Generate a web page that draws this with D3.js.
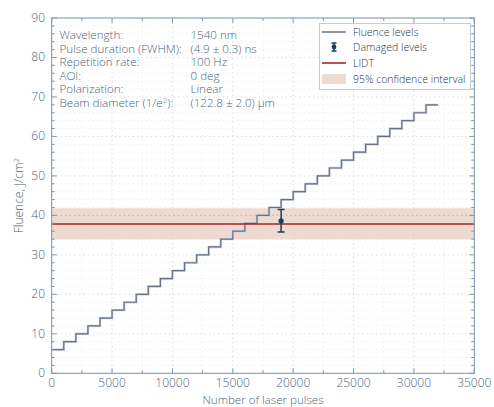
<!DOCTYPE html>
<html><head><meta charset="utf-8">
<script src="https://cdn.jsdelivr.net/npm/d3@7"></script>
<style>
body{margin:0;background:#fff;}
text{font-family:"Open Sans",sans-serif;font-weight:300;}
</style></head><body>
<svg id="c" width="494" height="407"></svg>
<script>
// Data
const stepStarts = [0,1000,2000,3000,4000,5000,6000,7000,8000,9000,10000,11000,12000,13000,14000,15000,16000,17000,18000,19000,20000,21000,22000,23000,24000,25000,26000,27000,28000,29000,30000,31000];
const fluenceLevels = [6,8,10,12,14,16,18,20,22,24,26,28,30,32,34,36,38,40,42,44,46,48,50,52,54,56,58,60,62,64,66,68];
const stepLength = 1000;
const damagedPulses = [19000];
const damagedFluence = [38.6];
const damagedErrLow = [35.8];
const damagedErrHigh = [41.5];
const lidt = [37.8];
const ciLow = [33.9];
const ciHigh = [41.8];
const xTicks = [0,5000,10000,15000,20000,25000,30000,35000];
const yTicks = [0,10,20,30,40,50,60,70,80,90];
const infoLabels = ["Wavelength:","Pulse duration (FWHM):","Repetition rate:","AOI:","Polarization:","Beam diameter (1/e²):"];
const infoValues = ["1540 nm","(4.9 ± 0.3) ns","100 Hz","0 deg","Linear","(122.8 ± 2.0) µm"];
const legendLabels = ["Fluence levels","Damaged levels","LIDT","95% confidence interval"];

const svg = d3.select("#c");
const L=51.7,R=474.3,T=18,B=373.3;
const x = d3.scaleLinear().domain([0,35000]).range([L,R]);
const y = d3.scaleLinear().domain([0,90]).range([B,T]);
const axisCol="#7f97aa", textCol="#4d6579";

// grid (dotted)
const g = svg.append("g");
const xMinor = d3.range(0,35001,2500), yMinor = d3.range(0,91,2);
g.selectAll("line.vx").data(xMinor).enter().append("line")
 .attr("x1",d=>x(d)).attr("x2",d=>x(d)).attr("y1",T).attr("y2",B)
 .attr("stroke",d=>d%5000===0?"#d8dde2":"#eceff2").attr("stroke-width",1).attr("stroke-dasharray","1.5,3");
g.selectAll("line.hy").data(yMinor).enter().append("line")
 .attr("y1",d=>y(d)).attr("y2",d=>y(d)).attr("x1",L).attr("x2",R)
 .attr("stroke",d=>d%10===0?"#d8dde2":"#eceff2").attr("stroke-width",1).attr("stroke-dasharray","1.5,3");

// CI band
svg.append("rect").attr("x",L).attr("width",R-L).attr("y",y(ciHigh[0])).attr("height",y(ciLow[0])-y(ciHigh[0]))
 .attr("fill","#e9cdc2").attr("opacity",0.75);
svg.append("line").attr("x1",L).attr("x2",R).attr("y1",y(40)).attr("y2",y(40)).attr("stroke","#c9b3ab").attr("stroke-dasharray","1.5,3");

// step line
const pts=[];
stepStarts.forEach((s,i)=>{pts.push([s,fluenceLevels[i]]);pts.push([s+stepLength,fluenceLevels[i]]);});
const line=d3.line().x(d=>x(d[0])).y(d=>y(d[1]));
svg.append("path").datum(pts).attr("d",line).attr("fill","none").attr("stroke","#c8ced7").attr("stroke-width",2.4);
svg.append("path").datum(pts).attr("d",line).attr("fill","none").attr("stroke","#66718a").attr("stroke-width",1.2);

// LIDT
svg.append("line").attr("x1",L).attr("x2",R).attr("y1",y(lidt[0])).attr("y2",y(lidt[0])).attr("stroke","#a8242c").attr("stroke-width",1.6);

// damaged
damagedPulses.forEach((p,i)=>{
  const cx=x(p);
  svg.append("line").attr("x1",cx).attr("x2",cx).attr("y1",y(damagedErrLow[i])).attr("y2",y(damagedErrHigh[i])).attr("stroke","#1d3c55").attr("stroke-width",1.5);
  [damagedErrLow[i],damagedErrHigh[i]].forEach(v=>svg.append("line").attr("x1",cx-3.5).attr("x2",cx+3.5).attr("y1",y(v)).attr("y2",y(v)).attr("stroke","#1d3c55").attr("stroke-width",1.5));
  svg.append("circle").attr("cx",cx).attr("cy",y(damagedFluence[i])).attr("r",2.6).attr("fill","#1d3c55");
});

// axes frame
svg.append("rect").attr("x",L).attr("y",T).attr("width",R-L).attr("height",B-T).attr("fill","none").attr("stroke",axisCol).attr("stroke-width",1);
const tk=svg.append("g").attr("stroke",axisCol).attr("stroke-width",1);
xMinor.forEach(d=>{const len=d%5000===0?5:3;
  tk.append("line").attr("x1",x(d)).attr("x2",x(d)).attr("y1",B).attr("y2",B-len);
  tk.append("line").attr("x1",x(d)).attr("x2",x(d)).attr("y1",T).attr("y2",T+len);});
yMinor.forEach(d=>{const len=d%10===0?5:3;
  tk.append("line").attr("y1",y(d)).attr("y2",y(d)).attr("x1",L).attr("x2",L+len);
  tk.append("line").attr("y1",y(d)).attr("y2",y(d)).attr("x1",R).attr("x2",R-len);});

// tick labels
svg.append("g").selectAll("text").data(xTicks).enter().append("text")
 .attr("x",d=>x(d)).attr("y",387).attr("text-anchor","middle").attr("font-size",12).attr("fill",textCol).text(d=>d);
svg.append("g").selectAll("text").data(yTicks).enter().append("text")
 .attr("x",45).attr("y",d=>y(d)+4).attr("text-anchor","end").attr("font-size",12).attr("fill",textCol).text(d=>d);

// axis titles
svg.append("text").attr("x",(L+R)/2).attr("y",404).attr("text-anchor","middle").attr("font-size",11.6).attr("fill",textCol).text("Number of laser pulses");
const yl=svg.append("text").attr("transform",`translate(23,${(T+B)/2}) rotate(-90)`).attr("text-anchor","middle").attr("font-size",12).attr("fill",textCol);
yl.append("tspan").text("Fluence, J/cm");
yl.append("tspan").attr("dy",-4).attr("font-size",8).text("2");

// info text
infoLabels.forEach((t,i)=>{
  const yy=39+i*13.6;
  const tl=svg.append("text").attr("x",59.5).attr("y",yy).attr("font-size",11.6).attr("fill",textCol);
  if(t.includes("²")){tl.append("tspan").text("Beam diameter (1/e");tl.append("tspan").attr("dy",-4).attr("font-size",8).text("2");tl.append("tspan").attr("dy",4).text("):");}
  else tl.text(t);
  svg.append("text").attr("x",190.5).attr("y",yy).attr("font-size",11.6).attr("fill",textCol).text(infoValues[i]);
});

// legend
const lg=svg.append("g");
lg.append("rect").attr("x",319.5).attr("y",23.5).attr("width",151).attr("height",66).attr("fill","#fff").attr("stroke","#c5ced6");
const ly=[32,47,63,79];
lg.append("line").attr("x1",322).attr("x2",346).attr("y1",ly[0]).attr("y2",ly[0]).attr("stroke","#66718a").attr("stroke-width",1.5);
lg.append("line").attr("x1",334).attr("x2",334).attr("y1",ly[1]-4).attr("y2",ly[1]+4).attr("stroke","#1d3c55").attr("stroke-width",1.5);
[ly[1]-4,ly[1]+4].forEach(v=>lg.append("line").attr("x1",331.5).attr("x2",336.5).attr("y1",v).attr("y2",v).attr("stroke","#1d3c55").attr("stroke-width",1.5));
lg.append("circle").attr("cx",334).attr("cy",ly[1]).attr("r",2.4).attr("fill","#1d3c55");
lg.append("line").attr("x1",322).attr("x2",346).attr("y1",ly[2]).attr("y2",ly[2]).attr("stroke","#a8242c").attr("stroke-width",1.6);
lg.append("rect").attr("x",322).attr("y",ly[3]-5).attr("width",24).attr("height",10).attr("fill","#e9cdc2").attr("opacity",0.75);
legendLabels.forEach((t,i)=>lg.append("text").attr("x",353).attr("y",ly[i]+4).attr("font-size",10.5).attr("font-weight",400).attr("fill","#1f3446").text(t));
</script></body></html>
